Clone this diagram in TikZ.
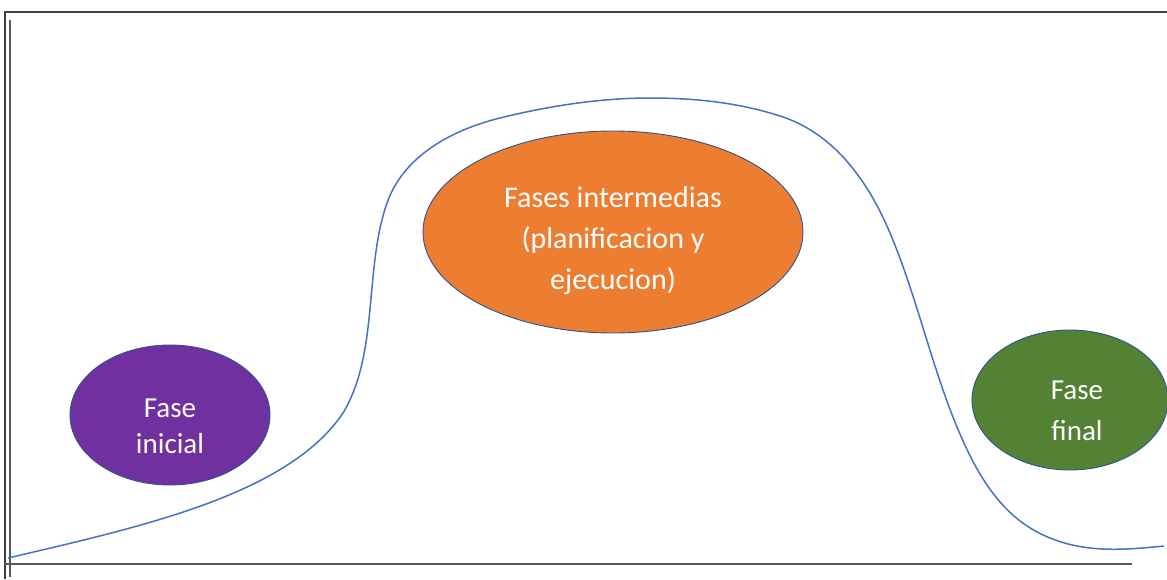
\documentclass[tikz,border=0pt]{standalone}
\usepackage{fontspec}
\setmainfont{Carlito}
\usetikzlibrary{shapes.geometric}
\definecolor{frame}{HTML}{404040}
\definecolor{axisgray}{HTML}{595959}
\definecolor{curveblue}{HTML}{4472C4}
\definecolor{edgeblue}{HTML}{2F528F}
\definecolor{phpurple}{HTML}{7030A0}
\definecolor{phorange}{HTML}{ED7D31}
\definecolor{phgreen}{HTML}{548235}
\tikzset{
  phase/.style={ellipse, draw=edgeblue, line width=0.9pt, inner sep=0pt},
  phasetext/.style={text=white, align=center, inner sep=0pt},
  axisline/.style={draw=axisgray, line width=2pt},
  frameline/.style={draw=frame, line width=1.5pt},
  curve/.style={draw=curveblue, line width=1.5pt}
}
\begin{document}
\begin{tikzpicture}[x=1pt,y=-1pt]
\useasboundingbox (0,0) rectangle (1167,579);
% frame
\coordinate (fr) at (1167,12);
\coordinate (ftl) at (5,12);
\coordinate (fb) at (5,579);
\draw[frameline] (fr) -- (ftl) -- (fb);
% axes
\coordinate (ytop) at (10,20);
\coordinate (ybot) at (10,577);
\coordinate (xl) at (5,564);
\coordinate (xr) at (1132,564);
\draw[axisline] (ytop) -- (ybot);
\draw[axisline] (xl) -- (xr);
% curve
\coordinate (p0) at (8,558);
\coordinate (p1) at (343,413);
\coordinate (p2) at (387,203);
\coordinate (p3) at (500,118);
\coordinate (p4) at (650,98);
\coordinate (p5) at (783,117);
\coordinate (p6) at (890,233);
\coordinate (p7) at (957,427);
\coordinate (p8) at (1050,538);
\coordinate (p9) at (1164,546);
\draw[curve] (p0) .. controls (140,527) and (288,495) .. (p1)
  .. controls (379,353) and (364,269) .. (p2)
  .. controls (403.5,156) and (451.5,130) .. (p3)
  .. controls (548.5,106) and (600,98) .. (p4)
  .. controls (695,98) and (740,102.6) .. (p5)
  .. controls (835,134.6) and (868.5,182) .. (p6)
  .. controls (916.5,295.6) and (931,364.4) .. (p7)
  .. controls (978,477.6) and (1003.5,519.5) .. (p8)
  .. controls (1087,553) and (1124,550) .. (p9);
% phases
\node[phase, fill=phpurple, minimum width=200pt, minimum height=140pt] (ini) at (170,415) {};
\node[phasetext, font=\fontsize{29}{36}\selectfont] (initext) at (170,426) {Fase\\inicial};
\node[phase, fill=phorange, minimum width=380pt, minimum height=202pt] (mid) at (613,232) {};
\node[phasetext, font=\fontsize{30}{41}\selectfont] (midtext) at (613,241) {Fases intermedias\\(planificacion y\\ejecucion)};
\node[phase, fill=phgreen, minimum width=196pt, minimum height=140pt] (fin) at (1070,400) {};
\node[phasetext, font=\fontsize{29}{41}\selectfont] (fintext) at (1077,411) {Fase\\final};
\end{tikzpicture}
\end{document}
